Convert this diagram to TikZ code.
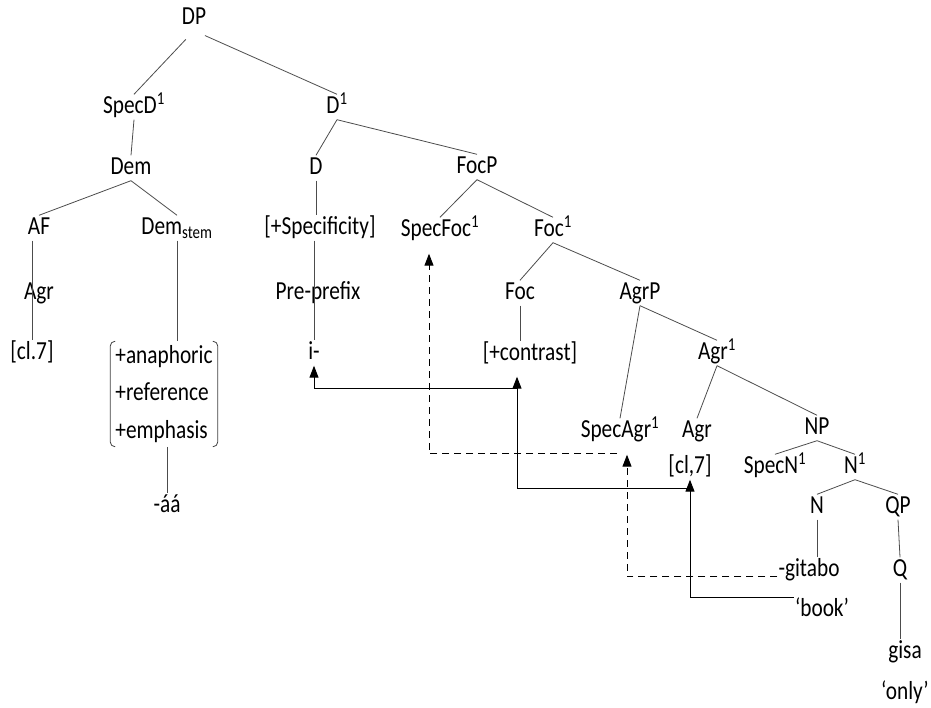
\documentclass[tikz,border=0pt]{standalone}
\usepackage{fontspec}
\setmainfont{Carlito}[FakeStretch=0.82]
\usetikzlibrary{arrows.meta}

\begin{document}
\begin{tikzpicture}[
    x=1pt, y=-1pt,
    lbl/.style={font=\fontsize{26}{30}\selectfont, inner sep=1pt, text height=18pt, text depth=5pt},
    feat/.style={font=\fontsize{26}{37.5}\selectfont, align=left, inner xsep=5pt, inner ysep=4pt},
    branch/.style={draw=black!70, line width=0.8pt},
    bracket/.style={draw=black!75, line width=0.8pt, rounded corners=5pt},
    move/.style={-{Triangle[width=9pt,length=12pt]}, line width=1pt},
    chain/.style={move, dash pattern=on 7pt off 5pt}
]
    \useasboundingbox (0,0) rectangle (931,708);

    % Tree nodes
    \node[lbl] (dp)      at (194,18)  {DP};
    \node[lbl] (specd)   at (134,107) {SpecD\textsuperscript{1}};
    \node[lbl] (dbar)    at (337,107) {D\textsuperscript{1}};
    \node[lbl] (dem)     at (131,168) {Dem};
    \node[lbl] (d)       at (316,168) {D};
    \node[lbl] (focp)    at (477,167) {FocP};
    \node[lbl] (af)      at (39,228)  {AF};
    \node[lbl] (demstem) at (177,228) {Dem\textsubscript{stem}};
    \node[lbl] (spec)    at (320,228) {[+Specificity]};
    \node[lbl] (specfoc) at (440,230) {SpecFoc\textsuperscript{1}};
    \node[lbl] (focbar)  at (553,230) {Foc\textsuperscript{1}};
    \node[lbl] (agr)     at (39,293)  {Agr};
    \node[lbl] (prepre)  at (318,293) {Pre-prefix};
    \node[lbl] (foc)     at (520,293) {Foc};
    \node[lbl] (agrp)    at (640,293) {AgrP};
    \node[lbl] (cl)      at (32,353)  {[cl.7]};
    \node[feat] (featr)  at (164,394) {+anaphoric\\+reference\\+emphasis};
    \node[lbl] (ipre)    at (314,353) {i-};
    \node[lbl] (contrast) at (530,354) {[+contrast]};
    \node[lbl] (agrbar)  at (717,353) {Agr\textsuperscript{1}};
    \node[lbl] (aa)      at (167,506) {-áá};
    \node[lbl] (specagr) at (620,431) {SpecAgr\textsuperscript{1}};
    \node[lbl] (agrh)    at (697,431) {Agr};
    \node[lbl] (np)      at (817,428) {NP};
    \node[lbl] (clb)     at (690,467) {[cl,7]};
    \node[lbl] (specn)   at (775,467) {SpecN\textsuperscript{1}};
    \node[lbl] (nbar)    at (855,467) {N\textsuperscript{1}};
    \node[lbl] (n)       at (817,507) {N};
    \node[lbl] (qp)      at (898,507) {QP};
    \node[lbl] (gitabo)  at (809,570) {-gitabo};
    \node[lbl] (q)       at (900,570) {Q};
    \node[lbl] (book)    at (822,610) {`book'};
    \node[lbl] (gisa)    at (905,652) {gisa};
    \node[lbl] (only)    at (905,693) {`only'};

    % Branches
    \draw[branch, shorten <=12pt] (dp.south) -- (specd.north);
    \draw[branch, shorten <=12pt] (dp.south) -- (dbar.north);
    \draw[branch] (specd.south) -- (dem.north);
    \draw[branch] (dbar.south) -- (d.north);
    \draw[branch] (dbar.south) -- (focp.north);
    \draw[branch] (dem.south) -- (af.north);
    \draw[branch] (dem.south) -- (demstem.north);
    \draw[branch] (d.south) -- (spec.north -| d.south);
    \draw[branch] (focp.south) -- (specfoc.north);
    \draw[branch] (focp.south) -- (focbar.north);
    \draw[branch] (cl.north |- af.south) -- (cl.north);
    \draw[branch] (demstem.south) -- (demstem.south |- featr.north);
    \draw[branch] (ipre.north |- spec.south) -- (ipre.north);
    \draw[branch] (aa.north |- featr.south) -- (aa.north);
    \draw[branch] (focbar.south) -- (foc.north);
    \draw[branch] (focbar.south) -- (agrp.north);
    \draw[branch] (foc.south) -- (foc.south |- contrast.north);
    \draw[branch] (agrp.south) -- (specagr.north);
    \draw[branch] (agrp.south) -- (agrbar.north);
    \draw[branch] (agrbar.south) -- (agrh.north);
    \draw[branch] (agrbar.south) -- (np.north);
    \draw[branch] (np.south) -- (specn.north);
    \draw[branch] (np.south) -- (nbar.north);
    \draw[branch] (nbar.south) -- (n.north);
    \draw[branch] (nbar.south) -- (qp.north);
    \draw[branch] (n.south) -- (n.south |- gitabo.north);
    \draw[branch] (qp.south) -- (q.north);
    \draw[branch] (q.south) -- (q.south |- gisa.north);

    % Brackets round the features
    \draw[bracket] ([xshift=5pt]featr.north west) -- (featr.north west) -- (featr.south west) -- ([xshift=5pt]featr.south west);
    \draw[bracket] ([xshift=-5pt]featr.north east) -- (featr.north east) -- (featr.south east) -- ([xshift=-5pt]featr.south east);

    % Movement
    \coordinate (clkink) at ([yshift=-9pt]clb.south);
    \coordinate (conkink) at ([xshift=-13pt,yshift=-22pt]contrast.south);
    \coordinate (agrkink) at ([xshift=-3pt,yshift=-10pt]specagr.south);
    \draw[move] (book.north west) -| (clb.south);
    \draw[move, shorten >=10pt] (clkink) -| ([xshift=-13pt]contrast.south);
    \draw[move] (conkink) -| (ipre.south);
    \draw[chain, shorten >=11pt] (gitabo.base west) -| ([xshift=7pt]specagr.south);
    \draw[chain, shorten >=11pt] (agrkink) -| ([xshift=-11pt]specfoc.south);

\end{tikzpicture}
\end{document}
